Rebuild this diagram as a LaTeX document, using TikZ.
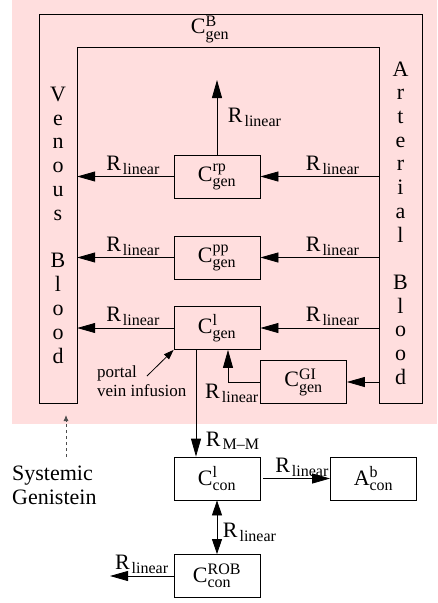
\documentclass[tikz,border=0pt]{standalone}
\usepackage{amsmath}
\usepackage{fontspec}
\setmainfont{Liberation Serif}
\usepackage{tikz}
\usetikzlibrary{positioning, arrows.meta, calc}
\DeclareMathSizes{22}{22}{16}{11}
\definecolor{bgpink}{RGB}{255,222,222}
\newcommand{\conc}[3]{$\text{#1}^{\text{#2}}_{\text{#3}}$}
\newcommand{\Rlin}{$\text{R}_{\kern2pt\text{linear}}$}

\begin{document}
\begin{tikzpicture}[x=1pt, y=-1pt, font=\fontsize{22}{26}\selectfont,
    box/.style={draw, line width=0.8pt, minimum width=86pt, minimum height=43pt, inner sep=0pt},
    flow/.style={-{Triangle[length=18pt,width=10pt]}, line width=0.8pt},
    lab/.style={inner sep=1.5pt}]

    % Rahmen
    \useasboundingbox (0,0) rectangle (437,603);
    \fill[bgpink] (12,0) rectangle (437,424);

    % Blutkompartiment (U-Form)
    \draw[line width=0.8pt] (39,403) -- (39,14) -- (422,14) -- (422,403) -- (379,403)
        -- (379,47) -- (77,47) -- (77,403) -- cycle;
    \node (blood) at (210,29) {\conc{C}{B}{gen}};

    % Venoes / Arteriell
    \node[minimum width=38pt, minimum height=356pt, align=center,
        font=\fontsize{22}{23.8}\selectfont] (ven) at (58,225)
        {V\\e\\n\\o\\u\\s\\[23.8pt]B\\l\\o\\o\\d};
    \node[minimum width=43pt, minimum height=356pt, align=center,
        font=\fontsize{22}{23.7}\selectfont] (art) at (400.5,223)
        {A\\r\\t\\e\\r\\i\\a\\l\\[23.7pt]B\\l\\o\\o\\d};

    % Gewebe
    \node[box] (rp)   at (217,176.5) {\conc{C}{rp}{gen}};
    \node[box] (pp)   at (217,257.5) {\conc{C}{pp}{gen}};
    \node[box] (gl)   at (217,328)   {\conc{C}{l}{gen}};
    \node[box] (gi)   at (303.5,382) {\conc{C}{GI}{gen}};
    \node[box] (conl) at (217,478.5) {\conc{C}{l}{con}};
    \node[box] (ab)   at (373.5,478.5) {\conc{A}{b}{con}};
    \node[box] (rob)  at (217,576)   {\conc{C}{ROB}{con}};

    % Fluesse
    \coordinate (rpout) at (217,80);
    \draw[flow] (rp.north) -- node[lab, right=9pt] {\Rlin} (rpout);

    \foreach \comp in {rp, pp, gl} {
        \draw[flow] (art.west |- \comp.east) -- node[lab, above, pos=0.39] {\Rlin} (\comp.east);
        \draw[flow] (\comp.west) -- node[lab, above, pos=0.42] {\Rlin} (ven.east |- \comp.west);
    }

    \draw[flow] (art.west |- gi.east) -- (gi.east);
    \draw[flow] (gi.west) -| node[lab, below, pos=0.5, xshift=4pt] {\Rlin} ([xshift=11pt]gl.south);

    % Pfortader
    \node[align=left, anchor=west, inner sep=0pt, font=\fontsize{17}{19}\selectfont]
        (portal) at (97,381) {portal\\vein infusion};
    \coordinate (pvstart) at (147,376);
    \draw[-{Triangle[length=10pt,width=7pt]}, line width=0.8pt] (pvstart) -- (gl.south west);

    % Konjugation
    \draw[flow] ([xshift=-21pt]gl.south) -- node[lab, pos=0.85, right=8pt]
        {$\text{R}_{\kern2pt\text{M--M}}$} ([xshift=-21pt]conl.north);
    \draw[flow] ([xshift=3pt]conl.east) -- node[lab, above, pos=0.58] {\Rlin} (ab.west);
    \draw[{Triangle[length=15pt,width=10pt]}-{Triangle[length=15pt,width=10pt]}, line width=0.8pt]
        (conl.south) -- node[lab, pos=0.6, right=4pt] {\Rlin} (rob.north);
    \coordinate (robout) at (110,576);
    \draw[flow] (rob.west) -- node[lab, above] {\Rlin} (robout);

    % Systemisch
    \node[align=left, anchor=west, inner sep=0pt, font=\fontsize{22}{24}\selectfont]
        (sg) at (12,485) {Systemic\\Genistein};
    \coordinate (sgbase) at (66,457);
    \coordinate (sgtip) at (66,415);
    \draw[dashed, gray!60!black, line width=0.8pt, -{Latex[length=6pt,width=5pt]}] (sgbase) -- (sgtip);

\end{tikzpicture}
\end{document}
